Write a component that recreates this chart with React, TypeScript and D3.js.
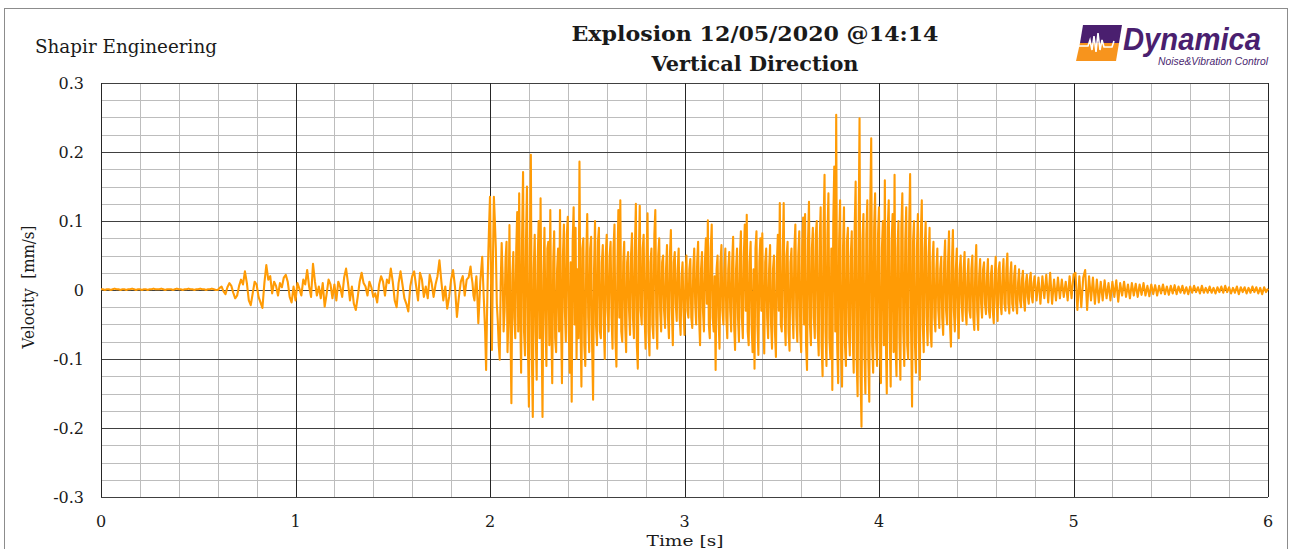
import React, { useEffect, useRef } from "react";
import * as d3 from "d3";

// ---------- data ----------
const timeDomain = [0, 6];
const velocityDomain = [-0.3, 0.3];
const xTickValues = [0, 1, 2, 3, 4, 5, 6];
const xTickLabels = ["0", "1", "2", "3", "4", "5", "6"];
const yTickValues = [0.3, 0.2, 0.1, 0, -0.1, -0.2, -0.3];
const yTickLabels = ["0.3", "0.2", "0.1", "0", "-0.1", "-0.2", "-0.3"];
const titleLines = ["Explosion 12/05/2020 @14:14", "Vertical Direction"];
const companyName = "Shapir Engineering";
const xAxisTitle = "Time [s]";
const yAxisTitle = "Velocity  [mm/s]";

// velocity samples (mm/s) read from the picture, in three recorded segments
// segment 1: 0.00 s - 1.90 s, one sample every 0.01 s
const earlyStart = 0;
const earlyInterval = 0.01;
const velocityEarly = [
  0.001, 0.001, 0.0, 0.001, 0.001, 0.0, 0.001, 0.002, 0.001, 0.001,
  0.0, 0.001, 0.001, 0.0, 0.001, 0.001, 0.002, 0.001, 0.0, 0.001,
  0.001, 0.0, 0.001, 0.001, 0.0, 0.001, 0.001, 0.002, 0.001, 0.001,
  0.001, 0.002, 0.001, 0.0, 0.001, 0.001, 0.001, 0.0, 0.001, 0.002,
  0.001, 0.001, 0.0, 0.001, 0.001, 0.002, 0.001, 0.001, 0.0, 0.001,
  0.001, 0.002, 0.001, 0.001, 0.0, 0.001, 0.001, 0.002, 0.001, 0.0,
  0.0, 0.003, 0.005, -0.002, -0.006, 0.004, 0.01, 0.006, -0.004, -0.012,
  -0.008, 0.006, 0.015, 0.008, 0.027, 0.01, -0.015, -0.022, -0.005, 0.012,
  0.008, -0.01, -0.018, -0.026, 0.01, 0.036, 0.015, 0.02, -0.005, 0.012,
  0.006, -0.008, 0.01, 0.004, 0.018, 0.022, 0.012, -0.01, -0.018, 0.005,
  -0.015, 0.01, 0.002, -0.008, 0.015, 0.008, 0.029, 0.005, -0.01, 0.038,
  0.012, -0.008, 0.005, -0.012, 0.01, -0.024, -0.006, 0.015, 0.008, -0.012,
  0.008, -0.015, 0.012, 0.004, -0.01, 0.018, 0.031, 0.01, -0.015, 0.005,
  -0.02, -0.029, -0.01, 0.012, 0.025, 0.01, 0.005, -0.008, 0.012, 0.004,
  -0.01, -0.005, -0.018, 0.008, 0.02, 0.012, -0.008, 0.015, 0.01, 0.031,
  0.012, -0.015, -0.025, 0.01, 0.027, 0.008, -0.012, -0.02, -0.031, 0.005,
  0.02, 0.027, 0.006, -0.015, 0.025, 0.015, -0.01, 0.005, -0.012, 0.022,
  0.01, -0.01, 0.008, 0.02, 0.043, 0.012, -0.015, 0.005, -0.027, -0.01,
  0.015, 0.029, 0.005, -0.039, -0.01, 0.012, 0.02, -0.008, 0.015, 0.018,
  0.034,
];

// segment 2: 1.90 s - 4.80 s, one sample every 0.005 s
const strongStart = 1.9;
const strongInterval = 0.005;
const velocityStrong = [
  0.034, 0.02, 0.01, -0.008, -0.015, 0.005, 0.02, -0.01, -0.048, -0.02, 0.012, 0.03, 0.048, 0.01, -0.025, -0.06, -0.116, -0.03, 0.04, 0.09,
  0.135, 0.02, -0.087, 0.04, 0.135, 0.1, 0.06, -0.02, -0.045, -0.08, -0.101, 0.01, 0.068, 0.02, -0.06, -0.03, 0.045, 0.07, -0.09, -0.04,
  0.094, -0.05, -0.164, 0.02, 0.055, -0.04, -0.07, 0.06, 0.113, -0.06, 0.14, -0.03, -0.12, 0.08, 0.171, -0.06, -0.095, 0.07, 0.15, -0.08,
  -0.169, 0.06, 0.196, -0.09, -0.184, 0.03, 0.08, -0.06, -0.13, 0.04, 0.1, -0.07, 0.133, -0.05, -0.184, 0.02, 0.09, -0.04, -0.11, 0.06,
  0.07, -0.08, 0.116, -0.05, -0.135, 0.04, 0.085, -0.07, -0.09, 0.03, 0.06, -0.06, 0.116, -0.04, -0.135, 0.05, 0.095, -0.03, -0.075, 0.08,
  0.106, -0.06, -0.12, 0.04, -0.162, 0.07, 0.12, -0.05, 0.09, -0.1, 0.03, -0.07, 0.186, -0.04, -0.14, 0.06, 0.075, -0.08, -0.11, 0.05,
  0.11, -0.04, -0.09, 0.06, 0.077, -0.08, -0.159, 0.03, 0.1, -0.05, -0.08, 0.07, 0.09, -0.06, -0.07, 0.04, 0.065, -0.05, -0.1, 0.05,
  0.08, -0.03, -0.06, 0.05, 0.07, -0.04, -0.085, 0.06, 0.095, -0.07, -0.111, 0.03, 0.116, -0.04, 0.13, -0.06, -0.075, 0.04, 0.07, -0.05,
  -0.09, 0.04, 0.055, -0.03, -0.065, 0.05, 0.082, -0.04, -0.07, 0.06, 0.125, -0.08, -0.114, 0.05, 0.122, -0.03, -0.05, 0.06, 0.08, -0.04,
  -0.085, 0.05, 0.111, -0.06, -0.095, 0.04, 0.06, -0.05, -0.07, 0.08, 0.116, -0.04, -0.085, 0.05, 0.075, -0.03, -0.06, 0.04, 0.05, -0.03,
  -0.055, 0.03, 0.065, -0.04, -0.07, 0.05, 0.087, -0.03, -0.08, 0.04, 0.055, -0.02, -0.045, 0.03, 0.06, -0.04, -0.065, 0.02, 0.04, -0.03,
  -0.065, 0.02, 0.05, -0.03, -0.04, 0.03, 0.045, -0.04, -0.055, 0.03, 0.06, -0.02, -0.05, 0.04, 0.07, -0.04, -0.08, 0.03, 0.055, -0.03,
  -0.06, 0.04, 0.075, -0.02, 0.101, -0.05, -0.07, 0.06, 0.095, -0.04, -0.06, 0.02, -0.116, 0.03, 0.05, -0.04, -0.085, 0.04, 0.065, -0.03,
  -0.05, 0.03, 0.06, -0.04, -0.07, 0.03, 0.055, -0.03, -0.06, 0.04, 0.077, -0.05, -0.087, 0.03, 0.06, -0.04, -0.075, 0.05, 0.085, -0.04,
  -0.07, 0.05, 0.095, -0.03, 0.109, -0.06, -0.08, 0.04, 0.07, -0.05, -0.09, 0.03, -0.114, 0.06, 0.085, -0.05, -0.094, 0.04, 0.075, -0.03,
  0.082, -0.05, -0.092, 0.04, 0.06, -0.04, -0.07, 0.03, 0.065, -0.05, -0.085, 0.03, 0.05, -0.06, -0.097, 0.04, 0.08, -0.03, 0.126, -0.05,
  -0.06, 0.05, 0.126, -0.04, -0.08, 0.05, 0.07, -0.06, -0.088, 0.04, 0.06, -0.03, -0.07, 0.06, 0.095, -0.04, -0.075, 0.05, 0.085, -0.06,
  -0.09, 0.06, 0.105, -0.05, 0.11, -0.08, -0.116, 0.07, 0.128, -0.05, -0.08, 0.06, 0.09, -0.04, -0.07, 0.08, 0.1, -0.06, -0.095, 0.07,
  0.12, -0.08, -0.125, 0.09, 0.167, -0.06, -0.11, 0.08, 0.14, -0.07, -0.1, 0.06, -0.145, 0.1, 0.179, -0.06, 0.254, -0.08, -0.135, 0.07,
  0.13, -0.09, -0.14, 0.06, 0.12, -0.08, -0.11, 0.07, 0.09, -0.06, -0.095, 0.05, 0.085, -0.07, -0.12, 0.09, 0.157, -0.1, -0.154, 0.08,
  0.249, -0.12, -0.198, 0.07, 0.11, -0.09, -0.15, 0.08, 0.13, -0.1, -0.162, 0.12, 0.22, -0.08, -0.12, 0.09, 0.14, -0.07, -0.11, 0.08,
  0.12, -0.09, -0.135, 0.06, 0.1, -0.08, 0.159, -0.07, -0.15, 0.09, 0.13, -0.06, -0.14, 0.07, 0.11, -0.09, 0.167, -0.08, -0.125, 0.06,
  0.1, -0.07, -0.13, 0.09, 0.14, -0.06, -0.11, 0.07, 0.12, -0.08, -0.1, 0.09, 0.168, -0.06, -0.169, 0.07, 0.1, -0.08, -0.12, 0.06,
  0.11, -0.07, -0.13, 0.08, 0.13, -0.05, -0.09, 0.06, 0.099, -0.04, -0.08, 0.05, 0.09, -0.06, -0.082, 0.04, 0.07, -0.04, -0.06, 0.03,
  0.06, -0.03, -0.055, 0.03, 0.048, -0.04, -0.065, 0.04, 0.072, -0.03, -0.05, 0.04, 0.085, -0.05, -0.082, 0.04, 0.087, -0.03, -0.06, 0.03,
  0.06, -0.04, -0.07, 0.03, 0.05, -0.02, -0.045, 0.03, 0.055, -0.03, -0.05, 0.02, 0.045, -0.03, -0.04, 0.03, 0.05, -0.04, -0.058, 0.03,
  0.065, -0.03, -0.058, 0.02, 0.045, -0.02, -0.04, 0.03, 0.04, -0.02, -0.035, 0.02, 0.045, -0.03, -0.04, 0.02, 0.035, -0.03, -0.048, 0.02,
  0.048, -0.02, -0.045, 0.03, 0.04, -0.02, -0.035, 0.02, 0.045, -0.02, -0.03, 0.03, 0.053, -0.02, -0.034, 0.02, 0.04, -0.02, -0.03, 0.02,
  0.035, -0.02, -0.034, 0.01, 0.03, -0.015, -0.025, 0.015, 0.028, -0.015, -0.03, 0.01, 0.022, -0.01, -0.02, 0.015, 0.025, -0.01, -0.018, 0.01,
  0.02,
];

// segment 3: 4.80 s - 6.00 s, one sample every 0.01 s
const lateStart = 4.8;
const lateInterval = 0.01;
const velocityLate = [
  0.02, -0.015, 0.018, -0.02, 0.02, -0.012, 0.022, -0.018, 0.025, -0.02,
  0.015, -0.015, 0.018, -0.012, 0.015, -0.01, 0.012, -0.015, 0.02, -0.012,
  0.022, 0.025, -0.029, 0.02, -0.025, 0.018, 0.029, -0.029, 0.02, -0.015,
  0.018, -0.02, 0.015, -0.018, 0.012, -0.015, 0.014, -0.012, 0.01, -0.015,
  0.012, -0.01, 0.014, -0.017, 0.01, -0.008, 0.012, -0.01, 0.008, -0.012,
  0.01, -0.008, 0.009, -0.01, 0.008, -0.007, 0.01, -0.008, 0.006, -0.009,
  0.008, -0.006, 0.007, -0.008, 0.006, -0.005, 0.008, -0.006, 0.005, -0.007,
  0.006, -0.005, 0.007, -0.006, 0.005, -0.004, 0.006, -0.005, 0.004, -0.006,
  0.005, -0.004, 0.006, -0.003, 0.004, -0.005, 0.006, -0.004, 0.003, -0.004,
  0.005, -0.004, 0.003, -0.005, 0.004, -0.003, 0.005, -0.004, 0.006, -0.003,
  0.004, -0.005, 0.003, -0.004, 0.005, -0.006, 0.004, -0.003, 0.004, -0.005,
  0.003, -0.004, 0.005, -0.003, 0.004, -0.005, 0.003, -0.006, 0.004, -0.003,
  0.002,
];

const segments = [
  { start: earlyStart, interval: earlyInterval, values: velocityEarly },
  { start: strongStart, interval: strongInterval, values: velocityStrong },
  { start: lateStart, interval: lateInterval, values: velocityLate },
];

const W = 1290;
const H = 549;
const plot = { left: 101, right: 1268, top: 83, bottom: 497 };
const serif = "'DejaVu Serif', 'Liberation Serif', serif";

export default function App() {
  const ref = useRef<SVGSVGElement | null>(null);

  useEffect(() => {
    const svg = d3.select(ref.current);
    svg.selectAll("*").remove();

    const x = d3.scaleLinear().domain(timeDomain).range([plot.left, plot.right]);
    const y = d3.scaleLinear().domain(velocityDomain).range([plot.bottom, plot.top]);

    svg.append("rect").attr("width", W).attr("height", H).attr("fill", "#ffffff");
    // chart frame
    svg.append("rect")
      .attr("x", 4.5).attr("y", 8.5).attr("width", 1283).attr("height", 560)
      .attr("fill", "none").attr("stroke", "#8c8c8c").attr("stroke-width", 1);

    const g = svg.append("g");
    const xMinor = d3.range(0, 6.0001, 0.2).filter((v) => Math.abs(v - Math.round(v)) > 1e-6);
    const yMinor = d3.range(-0.3, 0.30001, 0.025).filter((v) => Math.abs(v * 10 - Math.round(v * 10)) > 1e-6);
    g.selectAll(".xminor").data(xMinor).enter().append("line")
      .attr("x1", (d) => Math.round(x(d)) + 0.5).attr("x2", (d) => Math.round(x(d)) + 0.5)
      .attr("y1", plot.top).attr("y2", plot.bottom)
      .attr("stroke", "#bdbdbd").attr("stroke-width", 1);
    g.selectAll(".yminor").data(yMinor).enter().append("line")
      .attr("y1", (d) => Math.round(y(d)) + 0.5).attr("y2", (d) => Math.round(y(d)) + 0.5)
      .attr("x1", plot.left).attr("x2", plot.right)
      .attr("stroke", "#bdbdbd").attr("stroke-width", 1);
    g.selectAll(".ymajor").data(yTickValues).enter().append("line")
      .attr("y1", (d) => Math.round(y(d)) + 0.5).attr("y2", (d) => Math.round(y(d)) + 0.5)
      .attr("x1", plot.left).attr("x2", plot.right)
      .attr("stroke", "#404040").attr("stroke-width", 1);
    g.selectAll(".xmajor").data(xTickValues).enter().append("line")
      .attr("x1", (d) => Math.round(x(d)) + 0.5).attr("x2", (d) => Math.round(x(d)) + 0.5)
      .attr("y1", plot.top).attr("y2", plot.bottom)
      .attr("stroke", "#262626").attr("stroke-width", 1);

    // series
    const points: [number, number][] = [];
    segments.forEach((s, si) => {
      s.values.forEach((v, i) => {
        if (si > 0 && i === 0) return; // shared boundary sample
        points.push([s.start + i * s.interval, v]);
      });
    });
    const line = d3.line<[number, number]>()
      .x((d) => x(d[0]))
      .y((d) => y(d[1]));
    svg.append("path")
      .datum(points)
      .attr("d", line)
      .attr("fill", "none")
      .attr("stroke", "#ff9b05")
      .attr("stroke-width", 2.1)
      .attr("stroke-linejoin", "round");

    // tick labels
    svg.selectAll(".ylab").data(yTickValues).enter().append("text")
      .attr("x", 84).attr("y", (d) => y(d) + 6)
      .attr("text-anchor", "end")
      .attr("font-family", serif).attr("font-size", 16).attr("fill", "#1a1a1a")
      .text((_, i) => yTickLabels[i]);
    svg.selectAll(".xlab").data(xTickValues).enter().append("text")
      .attr("x", (d) => x(d)).attr("y", 527)
      .attr("text-anchor", "middle")
      .attr("font-family", serif).attr("font-size", 16).attr("fill", "#1a1a1a")
      .text((_, i) => xTickLabels[i]);

    // axis titles
    svg.append("text")
      .attr("x", 685).attr("y", 546)
      .attr("text-anchor", "middle")
      .attr("font-family", serif).attr("font-size", 15.5).attr("fill", "#1a1a1a")
      .attr("textLength", 77).attr("lengthAdjust", "spacingAndGlyphs")
      .text(xAxisTitle);
    svg.append("text")
      .attr("transform", "translate(34,287) rotate(-90)")
      .attr("text-anchor", "middle")
      .attr("font-family", serif).attr("font-size", 17).attr("fill", "#1a1a1a")
      .attr("textLength", 123).attr("lengthAdjust", "spacingAndGlyphs")
      .style("white-space", "pre")
      .text(yAxisTitle);

    // company
    svg.append("text")
      .attr("x", 35).attr("y", 53)
      .attr("font-family", serif).attr("font-size", 18).attr("fill", "#1a1a1a")
      .attr("textLength", 182).attr("lengthAdjust", "spacingAndGlyphs")
      .text(companyName);

    // title
    const titleWidths = [367, 207];
    svg.selectAll(".title").data(titleLines).enter().append("text")
      .attr("x", 755).attr("y", (_, i) => 41 + i * 30)
      .attr("text-anchor", "middle")
      .attr("font-family", serif).attr("font-weight", "bold").attr("font-size", 21).attr("fill", "#1a1a1a")
      .attr("textLength", (_, i) => titleWidths[i]).attr("lengthAdjust", "spacingAndGlyphs")
      .text((d) => d);

    // logo
    const logo = svg.append("g");
    const purple = "#4a1f6f";
    const orange = "#f7941d";
    logo.append("path").attr("d", "M1083,25 L1122,25 L1119,43 L1080,43 Z").attr("fill", purple);
    logo.append("path").attr("d", "M1080,43 L1119,43 L1116,61 L1076,61 Z").attr("fill", orange);
    logo.append("path")
      .attr("d", "M1079,46 L1088,46 L1090,40 L1092,50 L1094,36 L1096,52 L1098,33 L1100,50 L1102,40 L1104,47 L1112,47 L1114,41")
      .attr("fill", "none").attr("stroke", "#ffffff").attr("stroke-width", 1.6);
    logo.append("text")
      .attr("x", 1123).attr("y", 49.5)
      .attr("font-family", "'Liberation Sans Narrow', 'Liberation Sans', Arial, sans-serif").attr("font-weight", "bold")
      .attr("font-style", "italic").attr("font-size", 32).attr("fill", purple)
      .attr("textLength", 138).attr("lengthAdjust", "spacingAndGlyphs")
      .text("Dynamica");
    logo.append("text")
      .attr("x", 1158).attr("y", 65)
      .attr("font-family", "'Liberation Sans', Arial, sans-serif")
      .attr("font-style", "italic").attr("font-size", 10).attr("fill", purple)
      .attr("textLength", 110).attr("lengthAdjust", "spacingAndGlyphs")
      .text("Noise&Vibration Control");
  }, []);

  return (
    <svg
      ref={ref}
      width={W}
      height={H}
      style={{ position: "fixed", left: 0, top: 0, display: "block" }}
    />
  );
}
